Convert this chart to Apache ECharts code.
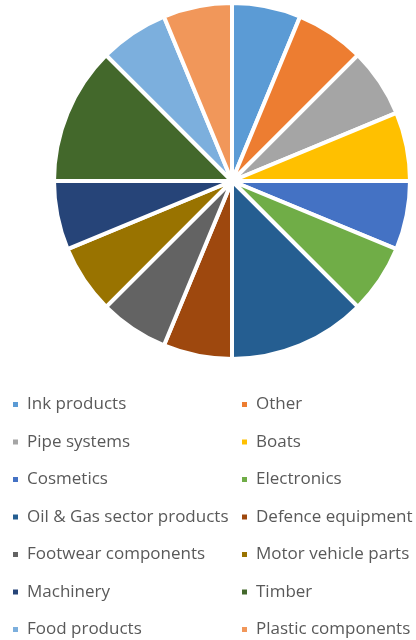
<!DOCTYPE html>
<html><head><meta charset="utf-8">
<script src="https://cdn.jsdelivr.net/npm/echarts@6/dist/echarts.min.js"></script>
<style>html,body{margin:0;padding:0;background:#fff}#c{width:416px;height:640px}</style>
</head><body><div id="c"></div>
<script>
const categories = ["Ink products","Other","Pipe systems","Boats","Cosmetics","Electronics","Oil & Gas sector products","Defence equipment","Footwear components","Motor vehicle parts","Machinery","Timber","Food products","Plastic components"];
const values = [1,1,1,1,1,1,2,1,1,1,1,2,1,1];
const colors = ["#5B9BD5","#ED7D31","#A5A5A5","#FFC000","#4472C4","#70AD47","#255E91","#9E480E","#636363","#997300","#264478","#43682B","#7CAFDD","#F1975A"];
const leftCol = categories.filter((c,i)=>i%2===0);
const rightCol = categories.filter((c,i)=>i%2===1);
const chart = echarts.init(document.getElementById('c'), null, {renderer:'canvas'});
const legendBase = {
  orient:'vertical', top:391, height:300, itemWidth:7, itemHeight:7, itemGap:20.5, icon:'rect',
  textStyle:{fontFamily:'Open Sans', fontSize:17, color:'#595959', padding:[0,0,0,3]},
  selectedMode:false
};
chart.setOption({
  color: colors,
  animation:false,
  legend:[
    Object.assign({}, legendBase, {left:6, data:leftCol}),
    Object.assign({}, legendBase, {left:235, data:rightCol})
  ],
  series:[{
    type:'pie',
    center:[232,181],
    radius:[0,178],
    startAngle:90,
    clockwise:true,
    label:{show:false},
    labelLine:{show:false},
    itemStyle:{borderColor:'#fff', borderWidth:4},
    emphasis:{disabled:true},
    data: categories.map((c,i)=>({name:c, value:values[i]}))
  }]
});
</script></body></html>
